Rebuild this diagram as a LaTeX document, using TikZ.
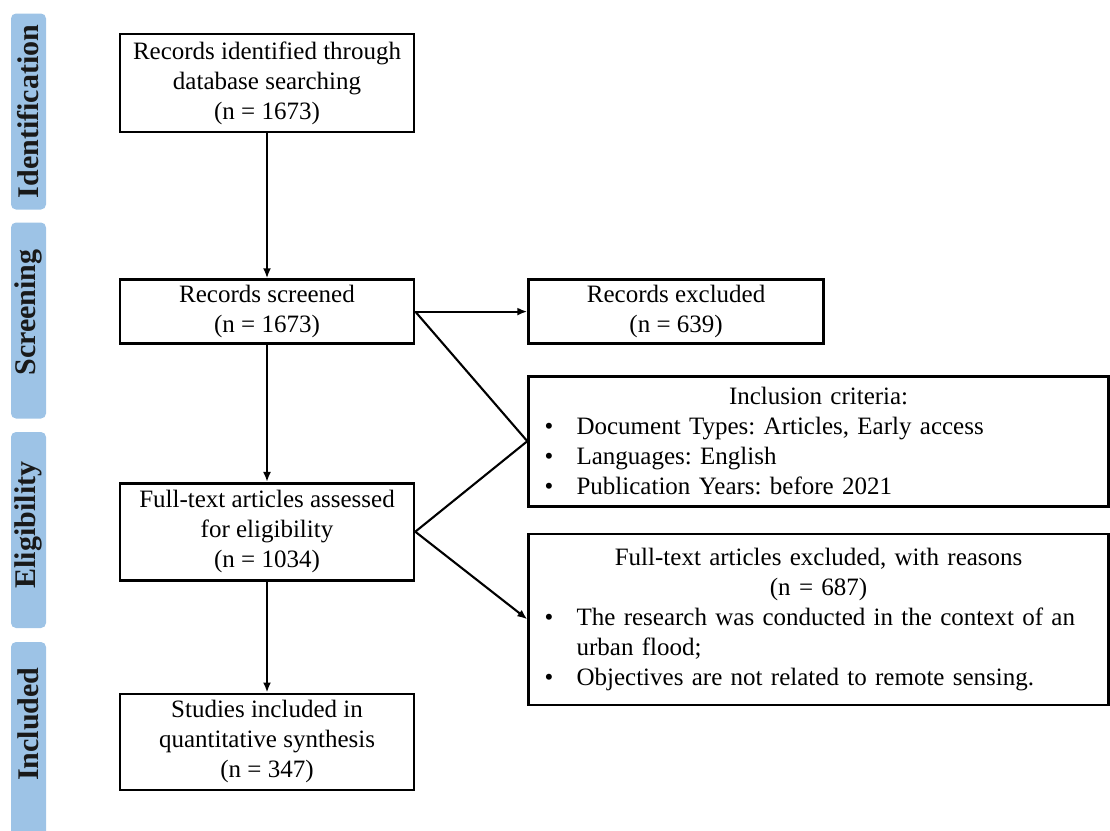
\documentclass[tikz,border=0pt]{standalone}
\usepackage{fontspec}
\setmainfont{Liberation Serif}
\usetikzlibrary{positioning, arrows.meta}
\definecolor{phaseblue}{RGB}{157,195,230}
\frenchspacing
\newcommand{\itm}{\hspace*{16pt}\makebox[32pt][l]{\textbullet}}
\newcommand{\ctr}[1]{\makebox[\hsize][c]{#1}}
\tikzset{
    stage/.style={draw, line width=2.6pt, minimum width=294pt, align=center, inner sep=2pt, font=\fontsize{25}{30}\selectfont},
    sidebox/.style={draw, line width=2.6pt, minimum width=580pt, text width=580pt, inner xsep=0pt, align=left, font=\fontsize{25}{30}\selectfont},
    phase/.style={fill=phaseblue, rounded corners=5pt, rotate=90, minimum width=196pt, minimum height=35pt, inner sep=0pt, text=black!90, font=\fontsize{30}{36}\selectfont\bfseries},
    flow/.style={line width=2.1pt, -{Latex[length=10pt,width=8pt]}},
    link/.style={line width=2.1pt},
}

\begin{document}
\begin{tikzpicture}[x=1pt, y=-1pt]
    \path[use as bounding box] (0,0) rectangle (1110,830);
    \clip (0,0) rectangle (1110,830);

    % stages on the left
    \node[phase] (pid) at (28.5,111.5) {Identification};
    \node[phase] (pscr) at (28.5,320.5) {\hspace*{16pt}Screening};
    \node[phase] (pel) at (28.5,530) {\hspace*{10pt}Eligibility};
    \node[phase] (pinc) at (28.5,740) {\hspace*{32pt}Included};

    \node[stage, minimum height=98pt] (ident) at (267,83) {Records identified through\\database searching\\(n = 1673)};
    \node[stage, minimum height=64pt, below=145pt of ident] (screen) {Records screened\\(n = 1673)};
    \node[stage, minimum height=97pt, below=137pt of screen] (elig) {Full-text articles assessed\\for eligibility\\(n = 1034)};
    \node[stage, minimum height=96pt, below=111pt of elig] (incl) {Studies included in\\quantitative synthesis\\(n = 347)};

    \node[stage, minimum width=295pt, minimum height=64pt, right=112pt of screen] (recex) {Records excluded\\(n = 639)};
    \node[sidebox, minimum height=130pt, below=30pt of recex.south west, anchor=north west] (crit) {\noindent\ctr{Inclusion criteria:}\\
        \itm Document Types: Articles, Early access\\
        \itm Languages: English\\
        \itm Publication Years: before 2021};
    \node[sidebox, minimum height=171pt, below=25pt of crit.south west, anchor=north west] (ftex) {\noindent\ctr{Full-text articles excluded, with reasons}\\
        \ctr{(n = 687)}\\
        \itm The research was conducted in the context of an\\
        \hspace*{48pt}urban flood;\\
        \itm Objectives are not related to remote sensing.};

    \draw[flow] (ident) -- (screen);
    \draw[flow] (screen) -- (elig);
    \draw[flow] (elig) -- (incl);
    \draw[flow] (screen) -- (recex);
    \draw[link] (screen.east) -- (crit.west);
    \draw[link] (elig.east) -- (crit.west);
    \draw[flow] (elig.east) -- (ftex.west);
\end{tikzpicture}
\end{document}
